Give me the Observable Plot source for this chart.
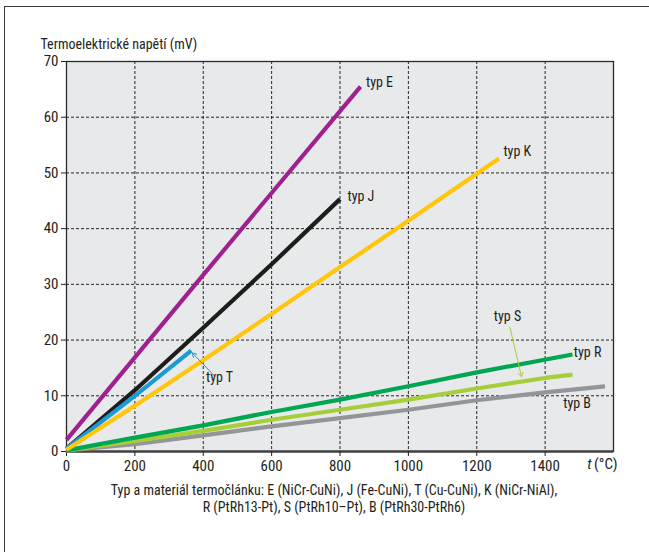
<!DOCTYPE html>
<html>
<head>
<meta charset="utf-8">
<script src="https://cdn.jsdelivr.net/npm/d3@7"></script>
<script src="https://cdn.jsdelivr.net/npm/@observablehq/plot@0.6"></script>
<style>
  html, body { margin: 0; padding: 0; background: #fff; overflow: hidden; width: 649px; height: 552px; }
  #frame { position: absolute; left: 4px; top: 6px; width: 700px; height: 600px; border: 1.5px solid #3a3a3a; box-sizing: border-box; }
  #chart { position: absolute; left: 0; top: 0; }
  #probe { position: absolute; left: 100px; top: 100px; white-space: nowrap; font-size: 14px; visibility: hidden; }
</style>
</head>
<body>
<div id="frame"></div>
<div id="chart"></div>
<span id="probe"></span>
<script>
// ---- data ----
const yTitle = "Termoelektrické napětí (mV)";
const captionLines = [
  "Typ a materiál termočlánku: E (NiCr-CuNi), J (Fe-CuNi), T (Cu-CuNi), K (NiCr-NiAl),",
  "R (PtRh13-Pt), S (PtRh10\u2013Pt), B (PtRh30-PtRh6)"
];
const xTicks = [0, 200, 400, 600, 800, 1000, 1200, 1400];
const yTicks = [0, 10, 20, 30, 40, 50, 60, 70];

const seriesNames = ["B", "S", "R", "E", "J", "T", "K"];
const seriesColors = ["#939598", "#a6ce39", "#00a651", "#a0218e", "#1d1d1b", "#1b9ad6", "#ffc60b"];

const tB = [0, 200, 400, 600, 800, 1000, 1200, 1400, 1575];
const vB = [0.2, 1.3, 2.9, 4.5, 6.0, 7.5, 9.2, 10.6, 11.7];
const tS = [0, 200, 400, 600, 800, 1000, 1200, 1400, 1480];
const vS = [0.2, 1.9, 3.7, 5.7, 7.5, 9.3, 11.3, 13.2, 13.8];
const tR = [0, 200, 400, 600, 800, 1000, 1200, 1480];
const vR = [0.2, 2.5, 4.7, 7.1, 9.3, 11.7, 14.2, 17.4];
const tE = [0, 200, 400, 600, 860];
const vE = [2.1, 16.9, 31.7, 46.4, 65.5];
const tJ = [0, 200, 400, 600, 800];
const vJ = [0.5, 11.0, 22.2, 33.6, 45.3];
const tT = [0, 200, 365];
const vT = [0.5, 10.0, 18.1];
const tK = [0, 200, 400, 600, 800, 1000, 1265];
const vK = [0.3, 8.2, 16.4, 24.7, 33.1, 41.4, 52.6];

const labelTexts = ["typ E", "typ J", "typ K", "typ T", "typ S", "typ R", "typ B"];
const labelX = [876, 822, 1278, 408, 1250, 1484, 1453];
const labelY = [66.2, 45.8, 53.8, 13.3, 24.2, 17.8, 8.6];

const arrowColors = ["#1b9ad6", "#a6ce39"];
const arrowX1 = [432, 1297];
const arrowY1 = [13.6, 22.3];
const arrowX2 = [368, 1331];
const arrowY2 = [17.7, 13.4];

// ---- pick the installed font whose width is closest to the reference's condensed face ----
const probe = document.getElementById("probe");
probe.textContent = yTitle;
const candidates = [
  ["'Liberation Sans Narrow'", "normal"],
  ["'DejaVu Sans Condensed'", "normal"],
  ["'DejaVu Sans'", "condensed"],
  ["'Noto Sans'", "condensed"],
  ["'Open Sans'", "condensed"],
  ["'Roboto Condensed'", "normal"],
  ["'Liberation Sans'", "normal"],
  ["Roboto", "normal"]
];
let best = candidates[candidates.length - 1], bestErr = Infinity;
for (const [fam, st] of candidates) {
  probe.style.fontFamily = fam + ", monospace";
  probe.style.fontStretch = st;
  const w = probe.getBoundingClientRect().width;
  const err = Math.abs(w - 156);
  if (err < bestErr) { bestErr = err; best = [fam, st]; }
}
probe.remove();
const fontFamily = best[0] + ", sans-serif";
const fontStretch = best[1];

// ---- build tables ----
const tempArrays = {B: tB, S: tS, R: tR, E: tE, J: tJ, T: tT, K: tK};
const voltArrays = {B: vB, S: vS, R: vR, E: vE, J: vJ, T: vT, K: vK};
const lineMarks = seriesNames.map((name, i) => {
  const rows = tempArrays[name].map((t, j) => ({t, v: voltArrays[name][j]}));
  return Plot.line(rows, {x: "t", y: "v", stroke: seriesColors[i], strokeWidth: 4.2, strokeLinecap: "butt"});
});
const labels = labelTexts.map((s, i) => ({s, x: labelX[i], y: labelY[i]}));
const arrows = arrowX1.map((x1, i) => ({x1, y1: arrowY1[i], x2: arrowX2[i], y2: arrowY2[i], c: arrowColors[i]}));

const chart = Plot.plot({
  width: 649,
  height: 552,
  marginLeft: 66,
  marginRight: 36,
  marginTop: 61,
  marginBottom: 101,
  style: {fontSize: "14px", color: "#231f20", background: "transparent", fontFamily, fontStretch},
  x: {domain: [0, 1600], label: null},
  y: {domain: [0, 70], label: null},
  marks: [
    Plot.frame({fill: "#e8e9eb", stroke: null}),
    Plot.gridX(xTicks.slice(1), {stroke: "#111", strokeOpacity: 0.9, strokeDasharray: "3,2", strokeWidth: 1}),
    Plot.gridY(yTicks.slice(1, -1), {stroke: "#111", strokeOpacity: 0.9, strokeDasharray: "3,2", strokeWidth: 1}),
    Plot.frame({stroke: "#2a2a2a", strokeWidth: 1.3}),
    Plot.ruleY([0], {stroke: "#444", strokeWidth: 2.4}),
    Plot.axisX({ticks: xTicks, tickFormat: d3.format("d"), tickSize: 5, tickPadding: 4, label: null, fontSize: 15}),
    Plot.axisY({ticks: yTicks, tickFormat: d3.format("d"), tickSize: 5, tickPadding: 3, label: null, fontSize: 15}),
    ...lineMarks,
    Plot.arrow(arrows, {x1: "x1", y1: "y1", x2: "x2", y2: "y2", stroke: "c", strokeWidth: 1, headLength: 7}),
    Plot.text(labels, {x: "x", y: "y", text: "s", textAnchor: "start", fontSize: 14, fill: "#231f20"}),
    Plot.text([yTitle], {frameAnchor: "top-left", dx: -26, dy: -22, textAnchor: "start", fontSize: 14, fill: "#231f20"}),
    Plot.text(["(°C)"], {frameAnchor: "bottom-right", dx: 4, dy: 17, textAnchor: "end", fontSize: 15, fill: "#231f20"}),
    Plot.text(["t"], {frameAnchor: "bottom-right", dx: -22, dy: 17, textAnchor: "end", fontSize: 15, fontStyle: "italic", fill: "#231f20"}),
    Plot.text([captionLines[0]], {frameAnchor: "bottom", dx: -6, dy: 43, fontSize: 14, fill: "#231f20"}),
    Plot.text([captionLines[1]], {frameAnchor: "bottom", dx: -6, dy: 60, fontSize: 14, fill: "#231f20"})
  ]
});
document.getElementById("chart").appendChild(chart);
</script>
</body>
</html>
